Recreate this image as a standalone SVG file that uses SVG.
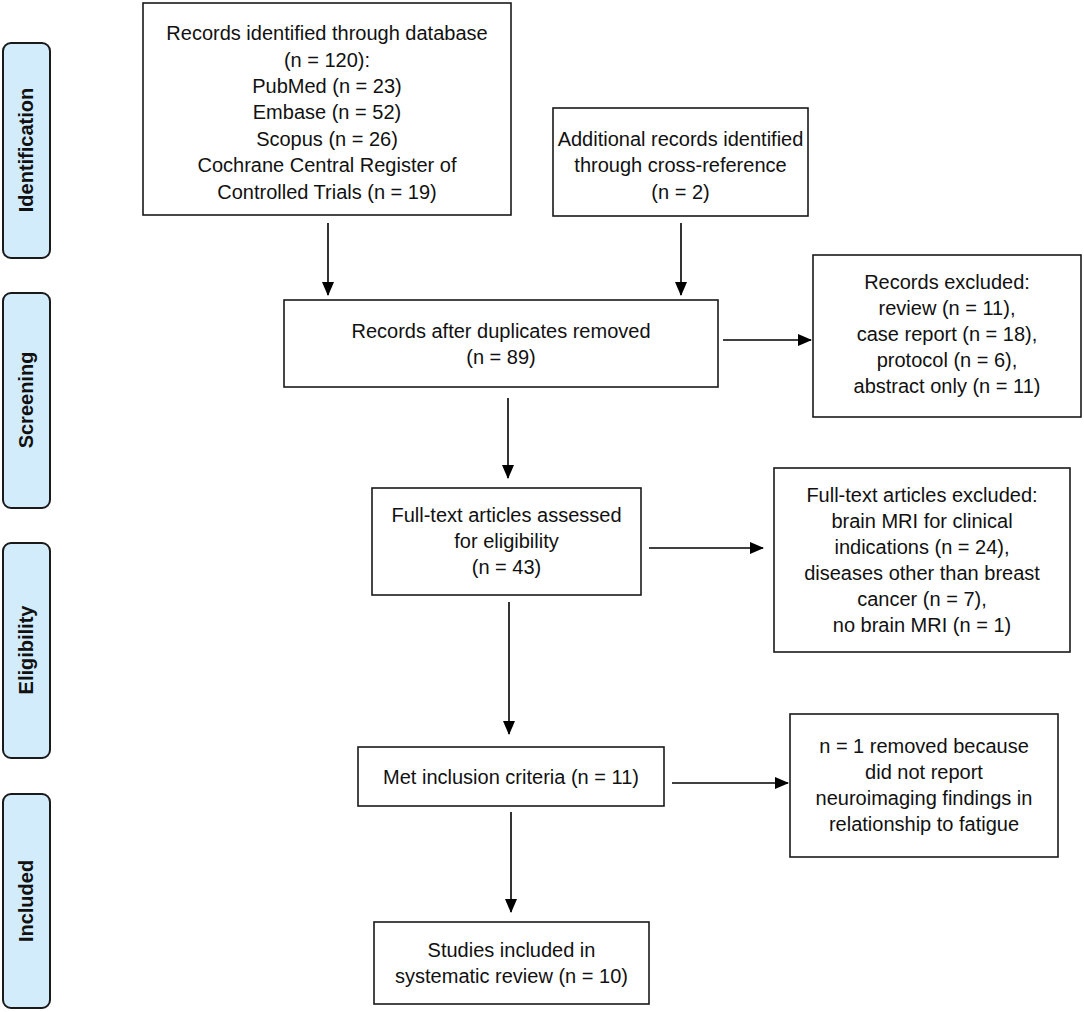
<svg xmlns="http://www.w3.org/2000/svg" width="1084" height="1012" viewBox="0 0 1084 1012">
<defs>
<marker id="ah" markerUnits="userSpaceOnUse" markerWidth="14" markerHeight="14" viewBox="0 0 14 12" refX="13" refY="6" orient="auto">
<path d="M0,0 L14,6 L0,12 Z" fill="#000"/>
</marker>
<style>
.box{fill:#fff;stroke:#1a1a1a;stroke-width:1.6}
.tab{fill:#d2ecfc;stroke:#1a1a1a;stroke-width:2}
.t{font-family:"Liberation Sans",Arial,sans-serif;font-size:20px;fill:#111;text-anchor:middle}
.tl{font-family:"Liberation Sans",Arial,sans-serif;font-size:20px;font-weight:bold;fill:#111;text-anchor:middle}
.c{stroke:#000;stroke-width:1.6;fill:none;marker-end:url(#ah)}
</style>
</defs>
<rect width="1084" height="1012" fill="#fff"/>
<g id="tab-identification"><rect class="tab" x="3" y="43" width="47" height="215" rx="8"/><text class="tl" transform="translate(33,150) rotate(-90)">Identification</text></g>
<g id="tab-screening"><rect class="tab" x="3" y="293" width="47" height="215" rx="8"/><text class="tl" transform="translate(33,400) rotate(-90)">Screening</text></g>
<g id="tab-eligibility"><rect class="tab" x="3" y="543" width="47" height="215" rx="8"/><text class="tl" transform="translate(33,650) rotate(-90)">Eligibility</text></g>
<g id="tab-included"><rect class="tab" x="3" y="794" width="47" height="214" rx="8"/><text class="tl" transform="translate(33,901) rotate(-90)">Included</text></g>

<g id="n-database"><rect class="box" x="143" y="3" width="368" height="212"/>
<text class="t" x="327" y="40">Records identified through database</text>
<text class="t" x="327" y="67">(n = 120):</text>
<text class="t" x="327" y="93">PubMed (n = 23)</text>
<text class="t" x="327" y="119">Embase (n = 52)</text>
<text class="t" x="327" y="146">Scopus (n = 26)</text>
<text class="t" x="327" y="172">Cochrane Central Register of</text>
<text class="t" x="327" y="199">Controlled Trials (n = 19)</text></g>

<g id="n-additional"><rect class="box" x="553" y="108" width="255" height="108"/>
<text class="t" x="680.5" y="146">Additional records identified</text>
<text class="t" x="680.5" y="172">through cross-reference</text>
<text class="t" x="680.5" y="199">(n = 2)</text></g>

<g id="n-dedup"><rect class="box" x="284" y="300" width="434" height="87"/>
<text class="t" x="501" y="338">Records after duplicates removed</text>
<text class="t" x="501" y="364">(n = 89)</text></g>

<g id="n-excluded1"><rect class="box" x="813" y="255" width="268" height="162"/>
<text class="t" x="947" y="289">Records excluded:</text>
<text class="t" x="947" y="315">review (n = 11),</text>
<text class="t" x="947" y="341">case report (n = 18),</text>
<text class="t" x="947" y="367">protocol (n = 6),</text>
<text class="t" x="947" y="393">abstract only (n = 11)</text></g>

<g id="n-fulltext"><rect class="box" x="372" y="488" width="269" height="107"/>
<text class="t" x="506.5" y="522">Full-text articles assessed</text>
<text class="t" x="506.5" y="548">for eligibility</text>
<text class="t" x="506.5" y="574">(n = 43)</text></g>

<g id="n-excluded2"><rect class="box" x="774" y="468" width="296" height="184"/>
<text class="t" x="922" y="502">Full-text articles excluded:</text>
<text class="t" x="922" y="528">brain MRI for clinical</text>
<text class="t" x="922" y="554">indications (n = 24),</text>
<text class="t" x="922" y="580">diseases other than breast</text>
<text class="t" x="922" y="606">cancer (n = 7),</text>
<text class="t" x="922" y="632">no brain MRI (n = 1)</text></g>

<g id="n-met"><rect class="box" x="358" y="747" width="306" height="59"/>
<text class="t" x="511" y="783.5">Met inclusion criteria (n = 11)</text></g>

<g id="n-removed"><rect class="box" x="790" y="714" width="268" height="143"/>
<text class="t" x="924" y="753">n = 1 removed because</text>
<text class="t" x="924" y="779">did not report</text>
<text class="t" x="924" y="805">neuroimaging findings in</text>
<text class="t" x="924" y="831">relationship to fatigue</text></g>

<g id="n-studies"><rect class="box" x="374" y="922" width="275" height="82"/>
<text class="t" x="511.5" y="957">Studies included in</text>
<text class="t" x="511.5" y="983">systematic review (n = 10)</text></g>

<g id="connectors">
<line class="c" x1="328" y1="223" x2="328" y2="295"/>
<line class="c" x1="681" y1="223" x2="681" y2="295"/>
<line class="c" x1="723" y1="340" x2="811" y2="340"/>
<line class="c" x1="508" y1="398" x2="508" y2="478"/>
<line class="c" x1="649" y1="548" x2="763" y2="548"/>
<line class="c" x1="509" y1="602" x2="509" y2="734"/>
<line class="c" x1="672" y1="783" x2="788" y2="783"/>
<line class="c" x1="511" y1="812" x2="511" y2="912"/>
</g>
</svg>
